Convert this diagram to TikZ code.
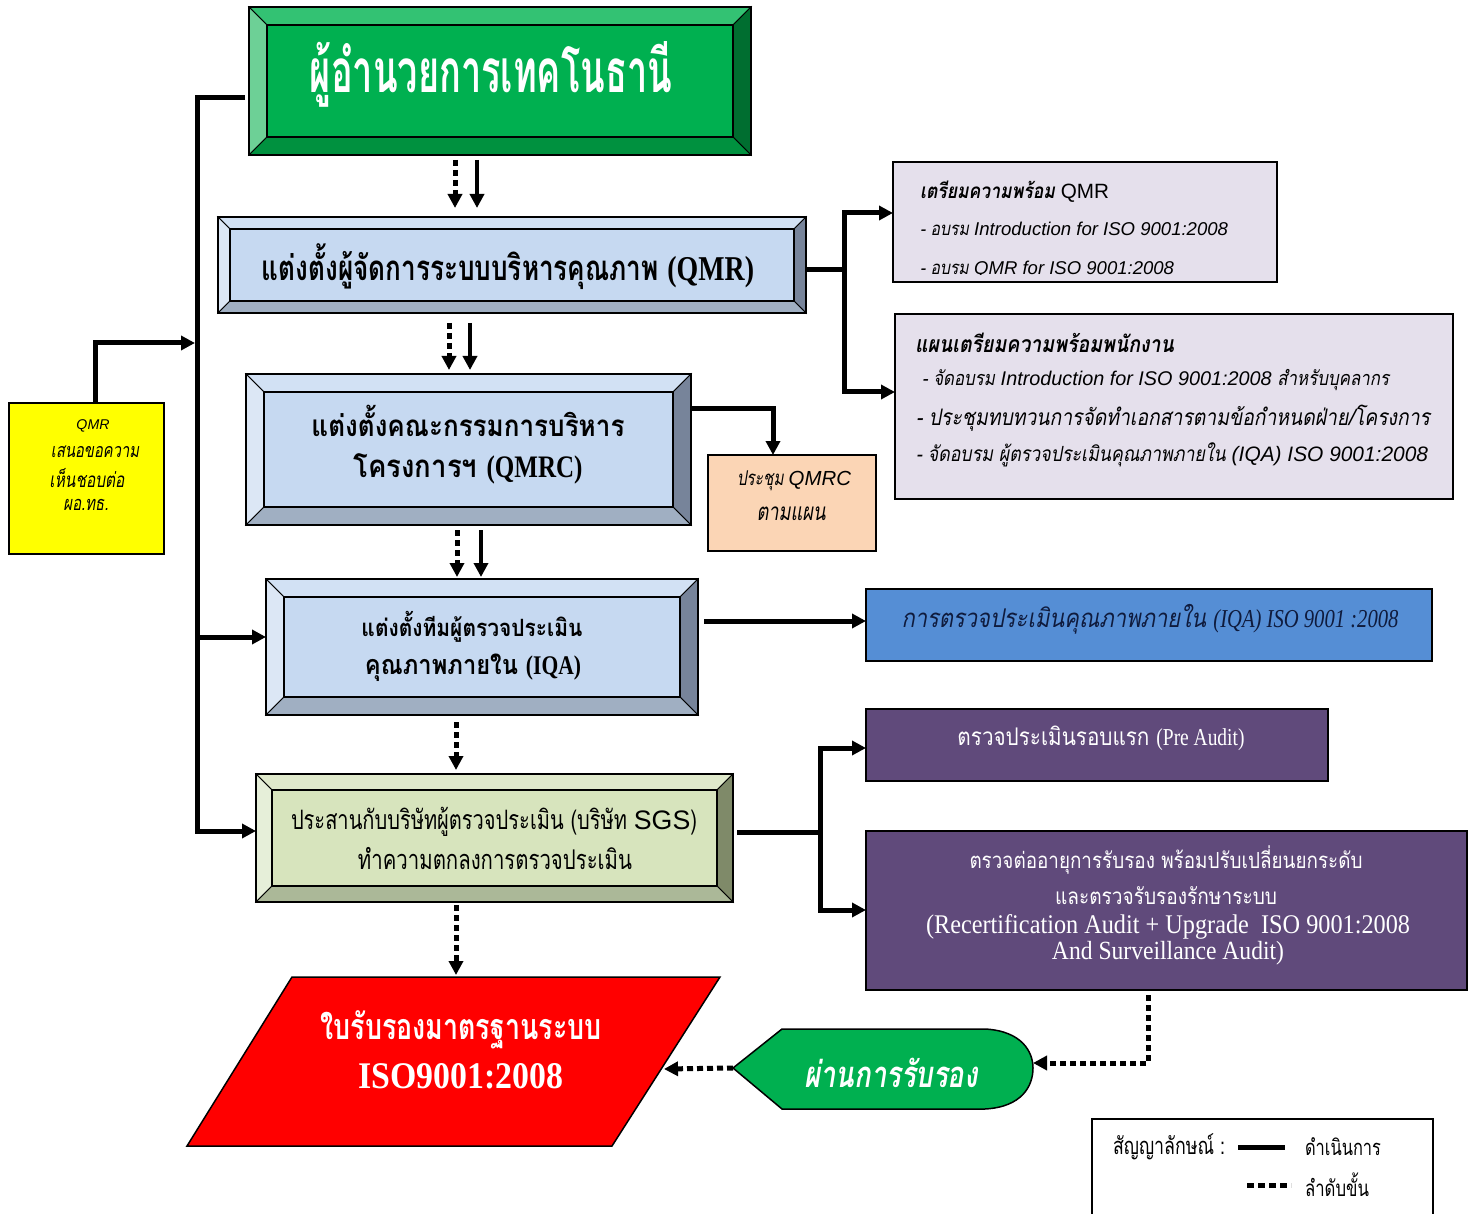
\documentclass[tikz,border=0pt]{standalone}
\usepackage{fontspec}
\usepackage{graphicx}
\usetikzlibrary{arrows.meta,calc}
\newfontfamily\thN[Script=Thai,FakeStretch=0.6]{Loma}
\newfontfamily\thM[Script=Thai,FakeStretch=0.75]{Loma}
\newfontfamily\thW[Script=Thai,FakeStretch=0.88]{Loma}
\newfontfamily\thR[Script=Thai,FakeStretch=0.85]{Loma}
\newfontfamily\tmsC[FakeStretch=0.8]{Liberation Serif}
\newfontfamily\tmsW[FakeStretch=0.9]{Liberation Serif}
\newfontfamily\arl{Liberation Sans}
\newcommand\fw[2]{\resizebox{#1pt}{!}{#2}}
\definecolor{gF}{HTML}{00B050}
\definecolor{gT}{HTML}{33C273}
\definecolor{gL}{HTML}{6DD096}
\definecolor{gR}{HTML}{006E30}
\definecolor{gB}{HTML}{00913F}
\definecolor{bF}{HTML}{C6D9F1}
\definecolor{bT}{HTML}{D2E1F4}
\definecolor{bL}{HTML}{DCE7F5}
\definecolor{bR}{HTML}{77849A}
\definecolor{bB}{HTML}{A0AFC2}
\definecolor{oF}{HTML}{D7E4BD}
\definecolor{oT}{HTML}{DFE9CB}
\definecolor{oL}{HTML}{E6EFD9}
\definecolor{oR}{HTML}{7F8A69}
\definecolor{oB}{HTML}{ABB898}
\definecolor{yel}{HTML}{FFFF00}
\definecolor{peach}{HTML}{FBD5B5}
\definecolor{lav}{HTML}{E5E0EC}
\definecolor{blu}{HTML}{558ED5}
\definecolor{pur}{HTML}{604A7B}
\definecolor{navy}{HTML}{0F1B3D}
\newcommand\bevel[6]{%
 \path[draw=black,line width=1pt,fill=#3] (#1.north west) -- (#1.north east) -- ($(#1.north east)+(-#2,-#2)$) -- ($(#1.north west)+(#2,-#2)$) -- cycle;
 \path[draw=black,line width=1pt,fill=#4] (#1.north west) -- ($(#1.north west)+(#2,-#2)$) -- ($(#1.south west)+(#2,#2)$) -- (#1.south west) -- cycle;
 \path[draw=black,line width=1pt,fill=#5] (#1.north east) -- ($(#1.north east)+(-#2,-#2)$) -- ($(#1.south east)+(-#2,#2)$) -- (#1.south east) -- cycle;
 \path[draw=black,line width=1pt,fill=#6] (#1.south west) -- ($(#1.south west)+(#2,#2)$) -- ($(#1.south east)+(-#2,#2)$) -- (#1.south east) -- cycle;
 \draw[line width=1.6pt] (#1.north west) rectangle (#1.south east);
 \draw[line width=1.6pt] ($(#1.north west)+(#2,-#2)$) rectangle ($(#1.south east)+(-#2,#2)$);
}
\tikzset{
 conn/.style={line width=5pt,draw=black},
 tip/.style={-{Triangle[length=14pt,width=14pt]}},
 dots/.style={line width=5pt,draw=black,dash pattern=on 6pt off 4pt},
 box/.style={draw=black,line width=2pt,inner sep=0pt,outer sep=0pt,rectangle},
 lbl/.style={inner sep=0pt,outer sep=0pt},
}
\begin{document}
\begin{tikzpicture}[x=1pt,y=-1pt]
\useasboundingbox (0,0) rectangle (1478,1214);
% ---------- bevel boxes
\node[box,fill=gF,minimum width=502pt,minimum height=148pt] (title) at (500,81) {};
\bevel{title}{18pt}{gT}{gL}{gR}{gB}
\node[box,fill=bF,minimum width=588pt,minimum height=96pt] (qmr) at (512,265) {};
\bevel{qmr}{12pt}{bT}{bL}{bR}{bB}
\node[box,fill=bF,minimum width=445pt,minimum height=151pt] (qmrc) at (468.5,449.5) {};
\bevel{qmrc}{18pt}{bT}{bL}{bR}{bB}
\node[box,fill=bF,minimum width=432pt,minimum height=136pt] (iqa) at (482,647) {};
\bevel{iqa}{18pt}{bT}{bL}{bR}{bB}
\node[box,fill=oF,minimum width=477pt,minimum height=128pt] (sgs) at (494.5,838) {};
\bevel{sgs}{16pt}{oT}{oL}{oR}{oB}
% ---------- plain boxes
\node[box,fill=yel,minimum width=155pt,minimum height=151pt] (yellow) at (86.5,478.5) {};
\node[box,fill=peach,minimum width=168pt,minimum height=96pt] (peach) at (792,503) {};
\node[box,fill=lav,minimum width=384pt,minimum height=120pt] (box1) at (1085,222) {};
\node[box,fill=lav,minimum width=558pt,minimum height=185pt] (box2) at (1174,406.5) {};
\node[box,fill=blu,minimum width=566pt,minimum height=72pt] (blue) at (1149,625) {};
\node[box,fill=pur,minimum width=462pt,minimum height=72pt] (pur1) at (1097,745) {};
\node[box,fill=pur,minimum width=601pt,minimum height=159pt] (pur2) at (1166.5,910.5) {};
\node[box,line width=1.5pt,minimum width=341pt,minimum height=121pt] (legend) at (1262.5,1179.5) {};
% ---------- certificate and pass shapes
\path[draw=black,line width=1.5pt,fill=red] (292,977) -- (720,977) -- (612,1146) -- (187,1146) -- cycle;
\coordinate (certN) at (456,977);
\coordinate (certE) at (664,1069);
\path[draw=black,line width=1.5pt,fill=gF] (733,1068) -- (782,1029) -- (985,1029)
  .. controls (1022,1031) and (1033,1052) .. (1033,1068)
  .. controls (1033,1086) and (1022,1107) .. (985,1109) -- (782,1109) -- cycle;
\node[lbl,minimum width=300pt,minimum height=80pt] (pass) at (883,1068) {};
% ---------- texts
\node[lbl,text=white] (titleT) at (491,74) {\fw{362}{\thN\bfseries ผู้อำนวยการเทคโนธานี}};
\node[lbl] (qmrT) at (508,267) {\fw{492}{\thM\bfseries แต่งตั้งผู้จัดการระบบบริหารคุณภาพ {\tmsC\bfseries (QMR)}}};
\node[lbl] (qmrcT1) at (468,421) {\fw{313}{\thW\bfseries แต่งตั้งคณะกรรมการบริหาร}};
\node[lbl] (qmrcT2) at (468,469) {\fw{229}{\thW\bfseries โครงการฯ {\tmsC\bfseries (QMRC)}}};
\node[lbl] (iqaT1) at (472,627) {\fw{221}{\thW\bfseries แต่งตั้งทีมผู้ตรวจประเมิน}};
\node[lbl] (iqaT2) at (473,668) {\fw{216}{\thW\bfseries คุณภาพภายใน {\tmsC\bfseries (IQA)}}};
\node[lbl] (sgsT1) at (494,822) {\fw{406}{\thM ประสานกับบริษัทผู้ตรวจประเมิน (บริษัท {\arl SGS})}};
\node[lbl] (sgsT2) at (495,859) {\fw{274}{\thM ทำความตกลงการตรวจประเมิน}};
\node[lbl,text=white] (certT1) at (461,1030) {\fw{281}{\thM\bfseries ใบรับรองมาตรฐานระบบ}};
\node[lbl,text=white] (certT2) at (461,1076) {\fw{205}{\tmsW\bfseries ISO9001:2008}};
\node[lbl,text=white] (passT) at (891,1073) {\fw{173}{\thM\bfseries\itshape ผ่านการรับรอง}};
\node[lbl,anchor=west] (b1T1) at (920,192) {\fw{189}{\thR\bfseries\itshape เตรียมความพร้อม {\arl\mdseries\upshape QMR}}};
\node[lbl,anchor=west] (b1T2) at (920,229) {\fw{308}{\thR\itshape - อบรม {\arl\itshape Introduction for ISO 9001:2008}}};
\begin{scope}
\clip (box1.north west) rectangle ([yshift=7pt]box1.south east);
\node[lbl,anchor=west] (b1T3) at (920,270) {\fw{254}{\thR\itshape - อบรม {\arl\itshape QMR for ISO 9001:2008}}};
\end{scope}
\node[lbl,anchor=west] (b2T1) at (915,343) {\fw{259}{\thR\bfseries\itshape แผนเตรียมความพร้อมพนักงาน}};
\node[lbl,anchor=west] (b2T2) at (922,380) {\fw{467}{\thR\itshape - จัดอบรม {\arl\itshape Introduction for ISO 9001:2008} สำหรับบุคลากร}};
\node[lbl,anchor=west] (b2T3) at (916,418) {\fw{514}{\thR\itshape - ประชุมทบทวนการจัดทำเอกสารตามข้อกำหนดฝ่าย/โครงการ}};
\node[lbl,anchor=west] (b2T4) at (916,455) {\fw{512}{\thR\itshape - จัดอบรม ผู้ตรวจประเมินคุณภาพภายใน {\arl\itshape (IQA) ISO 9001:2008}}};
\node[lbl] (peachT1) at (794,481) {\fw{114}{\thM\itshape ประชุม {\arl\itshape QMRC}}};
\node[lbl] (peachT2) at (791,514) {\fw{69}{\thM\itshape ตามแผน}};
\node[lbl] (yelT1) at (93,426) {\fw{33}{\arl\itshape QMR}};
\node[lbl] (yelT2) at (95,452) {\fw{88}{\thM\itshape เสนอขอความ}};
\node[lbl] (yelT3) at (87,478) {\fw{75}{\thM\itshape เห็นชอบต่อ}};
\node[lbl] (yelT4) at (86,505) {\fw{45}{\thM\itshape ผอ.ทธ.}};
\node[lbl,text=navy] (blueT) at (1150,619) {\fw{497}{\thR\itshape การตรวจประเมินคุณภาพภายใน {\tmsC\itshape (IQA) ISO 9001 :2008}}};
\node[lbl,text=white] (pur1T) at (1101,738) {\fw{287}{\thR ตรวจประเมินรอบแรก {\tmsC (Pre Audit)}}};
\node[lbl,text=white] (pur2T1) at (1166,860) {\fw{393}{\thR ตรวจต่ออายุการรับรอง พร้อมปรับเปลี่ยนยกระดับ}};
\node[lbl,text=white] (pur2T2) at (1166,896) {\fw{222}{\thR และตรวจรับรองรักษาระบบ}};
\node[lbl,text=white] (pur2T3) at (1168,927) {\fw{484}{\tmsW (Recertification Audit + Upgrade~ ISO 9001:2008}};
\node[lbl,text=white] (pur2T4) at (1168,953) {\fw{232}{\tmsW And Surveillance Audit)}};
\node[lbl] (legT1) at (1169,1147) {\fw{112}{\thM สัญญาลักษณ์ :}};
\node[lbl] (legT2) at (1343,1147) {\fw{76}{\thM ดำเนินการ}};
\node[lbl] (legT3) at (1337,1185) {\fw{64}{\thM ลำดับขั้น}};
\draw[line width=5pt] (1238,1147) -- (1285,1147);
\draw[dots,dash pattern=on 7pt off 4pt] (1247,1185) -- (1291,1185);
% ---------- vertical step arrows
\coordinate (a1d) at (455,0); \coordinate (a1s) at (477,0);
\coordinate (a2d) at (449,0); \coordinate (a2s) at (470,0);
\coordinate (a3d) at (457,0); \coordinate (a3s) at (481,0);
\coordinate (a4d) at (456,0); \coordinate (a5d) at (456,0);
\draw[dots,tip,shorten <=5pt,shorten >=9pt] (a1d |- title.south) -- (a1d |- qmr.north);
\draw[conn,line width=4pt,tip,shorten <=5pt,shorten >=9pt] (a1s |- title.south) -- (a1s |- qmr.north);
\draw[dots,tip,shorten <=10pt,shorten >=4pt] (a2d |- qmr.south) -- (a2d |- qmrc.north);
\draw[conn,line width=4pt,tip,shorten <=10pt,shorten >=4pt] (a2s |- qmr.south) -- (a2s |- qmrc.north);
\draw[dots,tip,shorten <=5pt,shorten >=2pt] (a3d |- qmrc.south) -- (a3d |- iqa.north);
\draw[conn,line width=4pt,tip,shorten <=5pt,shorten >=2pt] (a3s |- qmrc.south) -- (a3s |- iqa.north);
\draw[dots,tip,shorten <=7pt,shorten >=4pt] (a4d |- iqa.south) -- (a4d |- sgs.north);
\draw[dots,tip,shorten <=3pt,shorten >=2pt] (a5d |- sgs.south) -- (certN);
% ---------- left bus
\coordinate (tw) at ([xshift=-4pt]title.west);
\coordinate (busT) at (197,98);
\coordinate (busY) at (197,343);
\coordinate (busI) at (197,637);
\coordinate (busB) at (197,831);
\draw[conn,tip] (tw |- busT) -- (busT) -- (busB) -- (sgs.west |- busB);
\draw[conn,tip] (busI) -- (iqa.west |- busI);
\draw[conn,tip,shorten >=2pt] ([xshift=8.5pt]yellow.north) |- (busY);
% ---------- right connectors
\coordinate (rjM) at (844,270); \coordinate (rjT) at (844,213); \coordinate (rjB) at (844,392);
\draw[conn] (qmr.east |- rjM) -- (rjM);
\draw[conn,tip] (rjM) |- (box1.west |- rjT);
\draw[conn,tip] (rjM) |- (box2.west |- rjB);
\coordinate (pj) at (773,409);
\draw[conn,tip] (qmrc.east |- pj) -| (peach.north -| pj);
\coordinate (bj) at (780,621);
\draw[conn,tip,shorten <=6pt] (iqa.east |- bj) -- (blue.west |- bj);
\coordinate (sj) at (820,832); \coordinate (sjT) at (820,748); \coordinate (sjB) at (820,910);
\draw[conn,shorten <=4pt] (sgs.east |- sj) -- (sj);
\draw[conn,tip] (sj) |- (pur1.west |- sjT);
\draw[conn,tip] (sj) |- (pur2.west |- sjB);
\coordinate (dj) at (1148,1063);
\draw[dots,tip,shorten <=5pt] (pur2.south -| dj) |- (pass.east |- dj);
\draw[dots,tip] (pass.west) -- (certE);
\end{tikzpicture}
\end{document}
